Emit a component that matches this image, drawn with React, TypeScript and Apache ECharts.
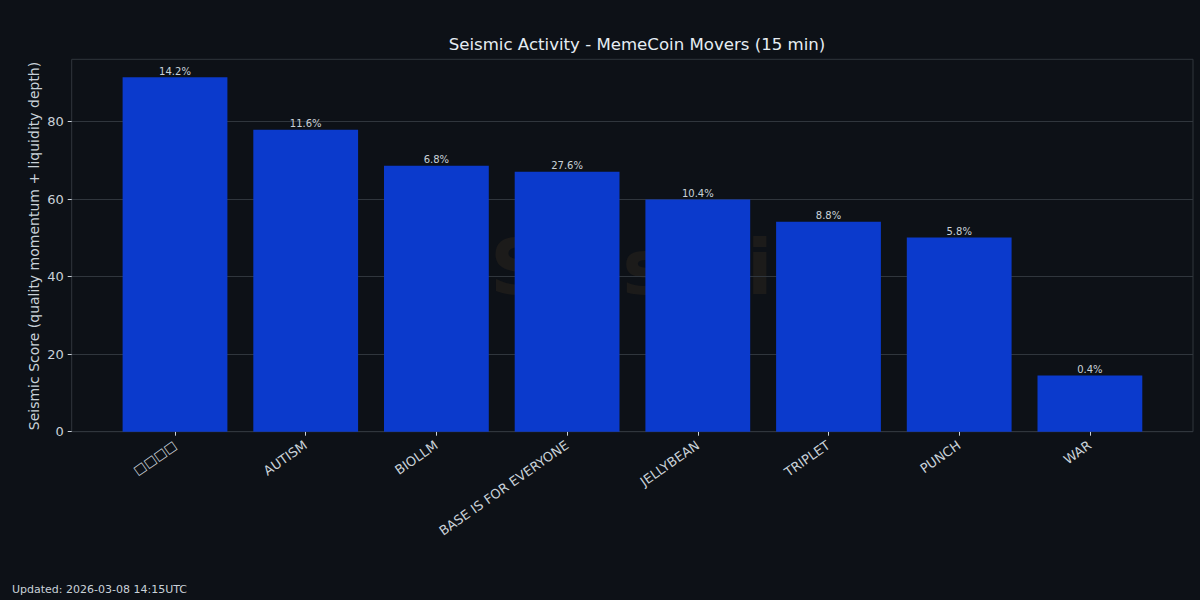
import React, { useEffect, useRef } from "react";
import * as echarts from "echarts";

const categories = ["□□□□", "AUTISM", "BIOLLM", "BASE IS FOR EVERYONE", "JELLYBEAN", "TRIPLET", "PUNCH", "WAR"];
const scores = [91.5, 77.9, 68.6, 67.1, 59.9, 54.2, 50.1, 14.5];
const changeLabels = ["14.2%", "11.6%", "6.8%", "27.6%", "10.4%", "8.8%", "5.8%", "0.4%"];
const yTicks = [0, 20, 40, 60, 80];

const TITLE = "Seismic Activity - MemeCoin Movers (15 min)";
const Y_NAME = "Seismic Score (quality momentum + liquidity depth)";
const FOOTER = "Updated: 2026-03-08 14:15UTC";

const BG = "#0d1117";
const TEXT = "#c9d1d9";
const GRIDC = "#30363d";
const BAR = "#0b3acc";
const FONT = "DejaVu Sans";

export default function App() {
  const ref = useRef<HTMLDivElement>(null);
  useEffect(() => {
    if (!ref.current) return;
    const chart = echarts.init(ref.current, null, { renderer: "svg" });
    const yMax = 96.1;
    chart.setOption({
      animation: false,
      backgroundColor: BG,
      textStyle: { fontFamily: FONT },
      title: {
        text: TITLE,
        left: 632,
        top: 31,
        textAlign: "center",
        textStyle: { color: "#e6edf3", fontSize: 16.6, fontWeight: "normal", fontFamily: FONT },
      },
      graphic: [
        {
          type: "text",
          left: 490,
          top: 229,
          z: -10,
          style: { text: "Seismic", fill: "#1c1b1a", font: "bold 76px 'DejaVu Sans'" },
        },
        {
          type: "text",
          x: 34,
          y: 246,
          rotation: Math.PI / 2,
          style: {
            text: Y_NAME,
            fill: TEXT,
            font: "14px 'DejaVu Sans'",
            align: "center",
            verticalAlign: "middle",
          },
        },
        {
          type: "text",
          left: 12,
          top: 584,
          style: { text: FOOTER, fill: TEXT, font: "11px 'DejaVu Sans'" },
        },
      ],
      grid: [
        { left: 71.7, top: 59.3, width: 1121.3, height: 372.4, show: true, borderColor: GRIDC, borderWidth: 1, containLabel: false },
        { left: 109.65, top: 59.3, width: 1045.6, height: 372.4, containLabel: false },
      ],
      xAxis: [
        { type: "value", gridIndex: 0, min: 0, max: 1, show: false },
        {
          type: "category",
          gridIndex: 1,
          data: categories,
          axisLine: { show: false },
          axisTick: { show: true, alignWithLabel: true, length: 4, lineStyle: { color: TEXT } },
          axisLabel: { interval: 0, rotate: 35, color: TEXT, fontSize: 13, margin: 12, fontFamily: FONT },
        },
      ],
      yAxis: [
        {
          type: "value",
          gridIndex: 0,
          min: 0,
          max: yMax,
          interval: 20,
          axisLine: { show: false },
          axisTick: { show: true, length: 4, lineStyle: { color: TEXT }, customValues: yTicks },
          axisLabel: {
            color: TEXT,
            fontSize: 13,
            margin: 8,
            fontFamily: FONT,
            customValues: yTicks,
          },
          splitLine: { show: true, lineStyle: { color: GRIDC, width: 1 } },
        },
        { type: "value", gridIndex: 1, min: 0, max: yMax, show: false },
      ],
      series: [
        {
          type: "bar",
          xAxisIndex: 1,
          yAxisIndex: 1,
          data: scores,
          barWidth: 104.8,
          itemStyle: { color: BAR },
          label: {
            show: true,
            position: "top",
            distance: 1,
            color: TEXT,
            fontSize: 10,
            fontFamily: FONT,
            formatter: (p: any) => changeLabels[p.dataIndex],
          },
        },
      ],
    });
    return () => chart.dispose();
  }, []);
  return <div ref={ref} style={{ position: "fixed", left: 0, top: 0, width: 1200, height: 600 }} />;
}
